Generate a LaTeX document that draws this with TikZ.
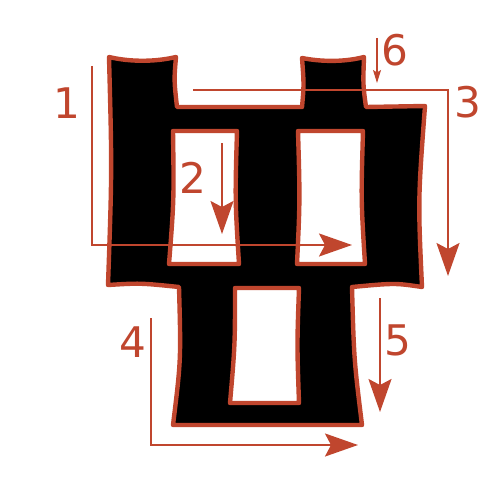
\documentclass[tikz,border=0pt]{standalone}
\usepackage{fontspec}
\newfontfamily\digitfont{DejaVu Sans}
\usetikzlibrary{arrows.meta}
\definecolor{rust}{RGB}{192,70,46}

\begin{document}
\begin{tikzpicture}[x=0.02cm, y=-0.02cm,
    order/.style={rust, line width=1.2pt, -{Stealth[length=0.66cm, width=0.46cm, inset=0.12cm]}},
    thinorder/.style={rust, line width=0.6pt, -{Stealth[length=0.26cm, width=0.16cm, inset=0.05cm]}},
    digit/.style={rust, font=\digitfont\fontsize{24}{24}\selectfont}]
      \useasboundingbox (0,0) rectangle (500,500);

      % Glyph with its three holes
      \filldraw[fill=black, draw=rust, line width=2.5pt, line join=round, even odd rule]
        (109,57) .. controls (130,62) and (155,62) .. (176,57)
        .. controls (174,80) .. (177,107) -- (302,107)
        .. controls (304,85) .. (302,58)
        .. controls (322,62) and (345,62) .. (364,57)
        .. controls (363,85) .. (366,107) -- (425,106)
        .. controls (418,200) .. (422,287)
        .. controls (395,283) .. (352,287)
        .. controls (354,360) .. (362,425) -- (173,425)
        .. controls (181,360) .. (179,287)
        .. controls (140,283) .. (108,285)
        .. controls (112,170) .. (109,57) -- cycle
        (173,131) -- (237,131) .. controls (235,200) .. (239,264)
        -- (169,264) .. controls (174,200) .. (173,131) -- cycle
        (298,131) -- (363,131) .. controls (361,200) .. (365,264)
        -- (297,264) .. controls (300,200) .. (298,131) -- cycle
        (235,288) -- (299,288) .. controls (297,345) .. (299,403)
        -- (230,403) .. controls (235,345) .. (235,288) -- cycle;

      % Stroke ends
      \coordinate (s1) at (92,66);    \coordinate (e1) at (352,245);
      \coordinate (s2) at (222,143);  \coordinate (e2) at (222,234);
      \coordinate (s3) at (193,90);   \coordinate (e3) at (448,276);
      \coordinate (s4) at (151,318);  \coordinate (e4) at (358,445);
      \coordinate (s5) at (380,298);  \coordinate (e5) at (380,412);
      \coordinate (s6) at (377,38);   \coordinate (e6) at (377,83);

      % Stroke order
      \draw[order] (s1) |- (e1);
      \draw[order] (s2) -- (e2);
      \draw[order] (s3) -| (e3);
      \draw[order] (s4) |- (e4);
      \draw[order] (s5) -- (e5);
      \draw[thinorder] (s6) -- (e6);

      % Numbers
      \foreach \n/\x/\y in {1/67/103, 2/193/178, 3/468/102, 4/133/342, 5/398/340, 6/395/50} {
        \node[digit] (n\n) at (\x,\y) {\n};
      }
    \end{tikzpicture}
\end{document}
